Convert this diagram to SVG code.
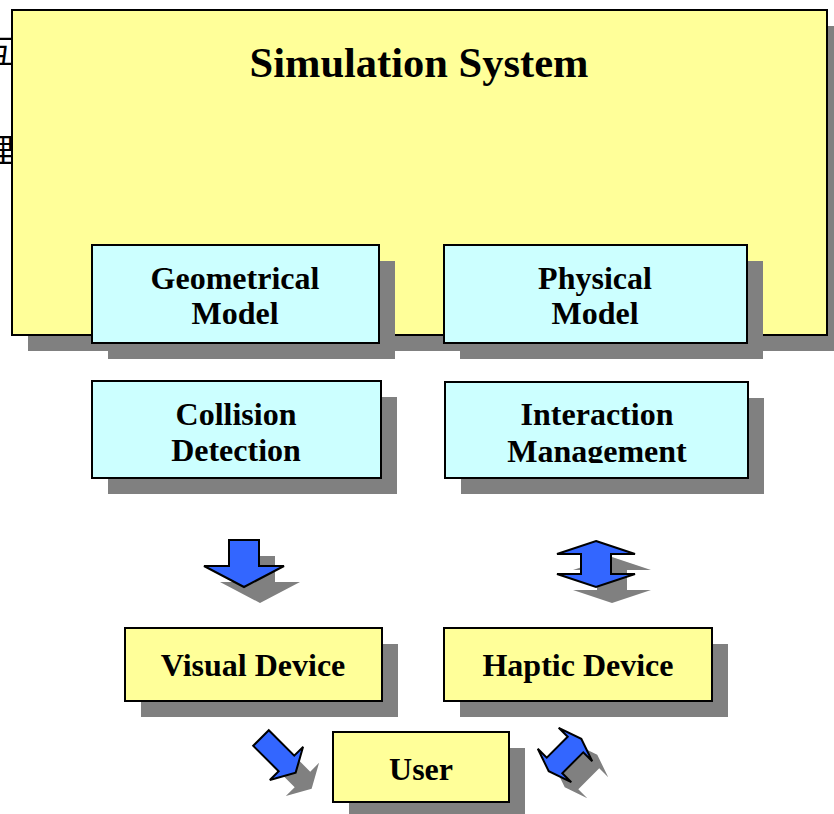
<svg xmlns="http://www.w3.org/2000/svg" width="834" height="814" viewBox="0 0 834 814">
<defs>
<style>
.sh{fill:#808080;stroke:none}
.y{fill:#FFFF99;stroke:#000;stroke-width:2}
.c{fill:#CCFFFF;stroke:#000;stroke-width:2}
.t{font-family:"Liberation Serif","Times New Roman",serif;font-weight:bold;font-size:32px;fill:#000;text-anchor:middle}
.cjk{font-family:"Noto Sans CJK SC",sans-serif;font-size:32px;fill:#000;text-anchor:end}
.ar{fill:#3366FF;stroke:#000;stroke-width:2;stroke-linejoin:miter}
.as{fill:#808080;stroke:none}
</style>
<clipPath id="clipMgmt"><rect x="445" y="382" width="303" height="81"/></clipPath>
<polygon id="down" points="-15,0 15,0 15,26 40,26 0,47 -40,26 -15,26"/>
<polygon id="diag" points="-11,0 11,0 11,36 23.5,36 0,49 -23.5,36 -11,36"/>
<polygon id="dbl" points="0,-23 39,-10 15,-10 15,10 39,10 0,23 -39,10 -15,10 -15,-10 -39,-10"/>
<polygon id="dbl2" points="0,-23 23.7,-14.8 11,-14.8 11,14.8 23.7,14.8 0,23 -23.7,14.8 -11,14.8 -11,-14.8 -23.7,-14.8"/>
</defs>
<rect x="0" y="0" width="834" height="814" fill="#fff"/>
<g id="side-text">
<text class="cjk" x="14" y="63">互</text>
<text class="cjk" x="14" y="162">理</text>
</g>
<g id="simulation-system">
<rect class="sh" x="28" y="26" width="815" height="325"/>
<rect class="y" x="12" y="10" width="815" height="325"/>
<text class="t" x="419" y="77" style="font-size:42.5px">Simulation System</text>
</g>
<g id="geometrical-model">
<rect class="sh" x="108" y="261" width="287" height="98"/>
<rect class="c" x="92" y="245" width="287" height="98"/>
<text class="t" x="235" y="289">Geometrical</text>
<text class="t" x="235" y="324">Model</text>
</g>
<g id="physical-model">
<rect class="sh" x="460" y="261" width="303" height="98"/>
<rect class="c" x="444" y="245" width="303" height="98"/>
<text class="t" x="595" y="289">Physical</text>
<text class="t" x="595" y="324">Model</text>
</g>
<g id="collision-detection">
<rect class="sh" x="108" y="397" width="289" height="97"/>
<rect class="c" x="92" y="381" width="289" height="97"/>
<text class="t" x="236" y="425">Collision</text>
<text class="t" x="236" y="461">Detection</text>
</g>
<g id="interaction-management">
<rect class="sh" x="461" y="398" width="303" height="96"/>
<rect class="c" x="445" y="382" width="303" height="96"/>
<text class="t" x="597" y="425">Interaction</text>
<text class="t" x="597" y="462" clip-path="url(#clipMgmt)">Management</text>
</g>
<g id="visual-device">
<rect class="sh" x="141" y="644" width="257" height="73"/>
<rect class="y" x="125" y="628" width="257" height="73"/>
<text class="t" x="253" y="676">Visual Device</text>
</g>
<g id="haptic-device">
<rect class="sh" x="460" y="644" width="268" height="73"/>
<rect class="y" x="444" y="628" width="268" height="73"/>
<text class="t" x="578" y="676">Haptic Device</text>
</g>
<g id="user">
<rect class="sh" x="349" y="748" width="176" height="70"/>
<rect class="y" x="333" y="732" width="176" height="70"/>
<text class="t" x="421" y="780">User</text>
</g>
<g id="connectors">
<use href="#down" class="as" transform="translate(260,556)"/>
<use href="#down" class="ar" transform="translate(244,540)"/>
<use href="#dbl" class="as" transform="translate(612,580)"/>
<use href="#dbl" class="ar" transform="translate(596,564)"/>
<use href="#diag" class="as" transform="translate(277,754) rotate(-45)"/>
<use href="#diag" class="ar" transform="translate(261,738) rotate(-45)"/>
<use href="#dbl2" class="as" transform="translate(581,771) rotate(45)"/>
<use href="#dbl2" class="ar" transform="translate(565,755) rotate(45)"/>
</g>
</svg>
